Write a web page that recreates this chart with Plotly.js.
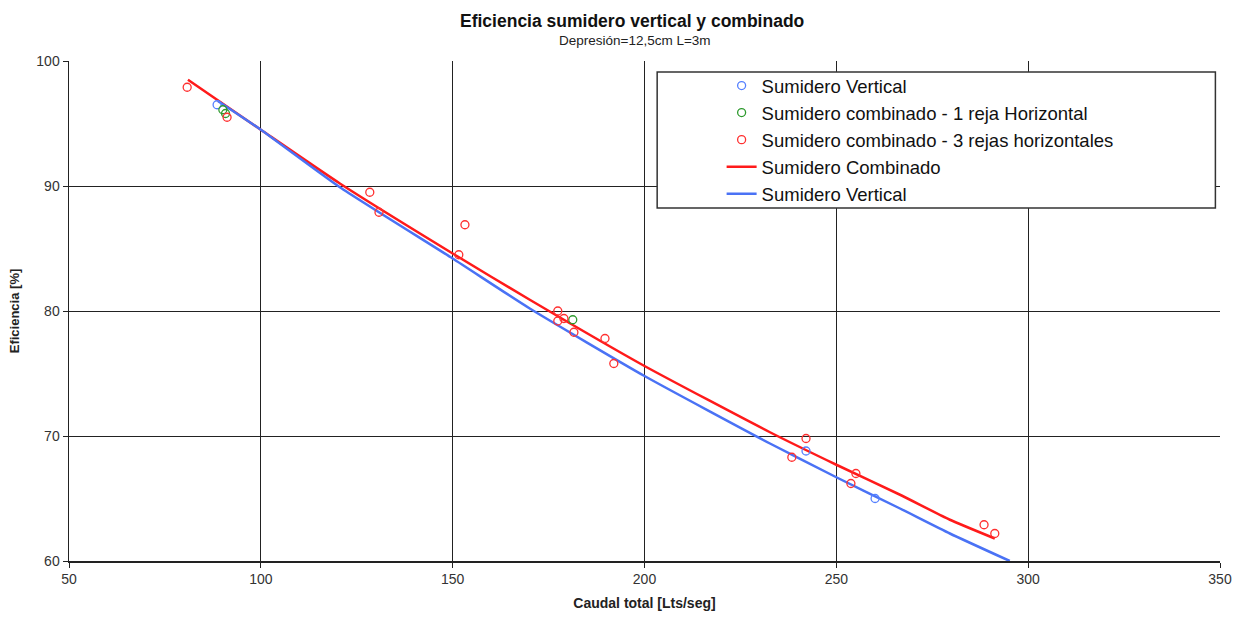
<!DOCTYPE html>
<html>
<head>
<meta charset="utf-8">
<script src="https://cdn.plot.ly/plotly-3.0.1.min.js"></script>
<style>html,body{margin:0;padding:0;background:#fff;}#chart{width:1238px;height:619px;}</style>
</head>
<body>
<div id="chart"></div>
<script>
// Measured points
const vertX = [88.6, 242.1, 260.1];
const vertY = [96.5, 68.8, 65.0];
const comb1X = [90.1, 90.8, 181.3];
const comb1Y = [96.1, 95.8, 79.3];
const comb3X = [80.8, 91.2, 128.4, 130.8, 153.2, 151.6, 177.4, 177.4, 179.0, 181.6, 189.7, 192.0, 242.1, 238.4, 255.1, 253.8, 288.5, 291.3];
const comb3Y = [97.9, 95.5, 89.5, 87.9, 86.9, 84.5, 80.0, 79.2, 79.4, 78.3, 77.8, 75.8, 69.8, 68.3, 67.0, 66.2, 62.9, 62.2];
// Fitted curves
const combLineX = [81, 100, 120.6, 150, 170.1, 200, 232.7, 250, 266.6, 279.6, 291.3];
const combLineY = [98.5, 94.5, 90.2, 84.6, 80.9, 75.6, 70.3, 67.7, 65.3, 63.3, 61.8];
const vertLineX = [88.8, 100, 120.6, 150, 170.1, 200, 232.7, 250, 266.6, 279.6, 295.2];
const vertLineY = [96.8, 94.5, 89.9, 84.2, 80.2, 74.8, 69.4, 66.7, 64.2, 62.2, 60.0];
const xTicks = [50, 100, 150, 200, 250, 300, 350];
const yTicks = [60, 70, 80, 90, 100];
const titleText = 'Eficiencia sumidero vertical y combinado';
const subtitleText = 'Depresión=12,5cm L=3m';

const FONT = 'Liberation Sans, Arial, sans-serif';
const traces = [
  {x: combLineX, y: combLineY, mode: 'lines', name: 'Sumidero Combinado', legendrank: 4,
   line: {color: '#ff1a1a', width: 2.5, shape: 'spline', smoothing: 0.5}},
  {x: vertLineX, y: vertLineY, mode: 'lines', name: 'Sumidero Vertical', legendrank: 5,
   line: {color: '#4a72f5', width: 2.5, shape: 'spline', smoothing: 0.5}},
  {x: vertX, y: vertY, mode: 'markers', name: 'Sumidero Vertical', legendrank: 1,
   marker: {symbol: 'circle-open', size: 8, color: '#5580ff', line: {width: 1.3}}},
  {x: comb1X, y: comb1Y, mode: 'markers', name: 'Sumidero combinado - 1 reja Horizontal', legendrank: 2,
   marker: {symbol: 'circle-open', size: 8, color: '#2e9a2e', line: {width: 1.3}}},
  {x: comb3X, y: comb3Y, mode: 'markers', name: 'Sumidero combinado - 3 rejas horizontales', legendrank: 3,
   marker: {symbol: 'circle-open', size: 8, color: '#ff3030', line: {width: 1.3}}}
];

const axisFont = {family: FONT, size: 14, color: '#333'};
const layout = {
  width: 1238, height: 619,
  margin: {l: 69, r: 18, t: 61, b: 58},
  paper_bgcolor: '#fff', plot_bgcolor: '#fff',
  font: {family: FONT, color: '#222'},
  annotations: [
    {text: '<b>' + titleText + '</b>', xref: 'paper', yref: 'paper', x: 0.489, y: 1.080,
     xanchor: 'center', yanchor: 'middle', showarrow: false, font: {family: FONT, size: 17.5, color: '#111'}},
    {text: subtitleText, xref: 'paper', yref: 'paper', x: 0.492, y: 1.040,
     xanchor: 'center', yanchor: 'middle', showarrow: false, font: {family: FONT, size: 13.5, color: '#222'}}
  ],
  shapes: [
    {type: 'rect', xref: 'paper', yref: 'paper', x0: 0.511, x1: 0.996, y0: 0.706, y1: 0.978,
     fillcolor: '#fff', line: {color: '#333', width: 1.5}, layer: 'above'}
  ],
  xaxis: {range: [50, 350], tickvals: xTicks, ticktext: xTicks.map(String),
          showgrid: true, gridcolor: '#222', gridwidth: 1,
          showline: true, linecolor: '#222', linewidth: 1.5,
          ticks: 'outside', ticklen: 5, tickcolor: '#222', tickfont: axisFont, zeroline: false,
          title: {text: '<b>Caudal total [Lts/seg]</b>', standoff: 12,
                  font: {family: FONT, size: 14, color: '#222'}}},
  yaxis: {range: [60, 100], tickvals: yTicks, ticktext: yTicks.map(String),
          showgrid: true, gridcolor: '#222', gridwidth: 1,
          showline: true, linecolor: '#222', linewidth: 1.5,
          ticks: 'outside', ticklen: 5, tickcolor: '#222', tickfont: axisFont, zeroline: false,
          title: {text: '<b>Eficiencia [%]</b>', standoff: 14,
                  font: {family: FONT, size: 13, color: '#222'}}},
  legend: {x: 0.567, y: 0.988, xanchor: 'left', yanchor: 'top',
           bgcolor: 'rgba(0,0,0,0)', borderwidth: 0,
           font: {family: FONT, size: 18.5, color: '#111'},
           itemwidth: 30, tracegroupgap: 0},
  showlegend: true
};

Plotly.newPlot('chart', traces, layout, {displayModeBar: false, staticPlot: true});
</script>
</body>
</html>
